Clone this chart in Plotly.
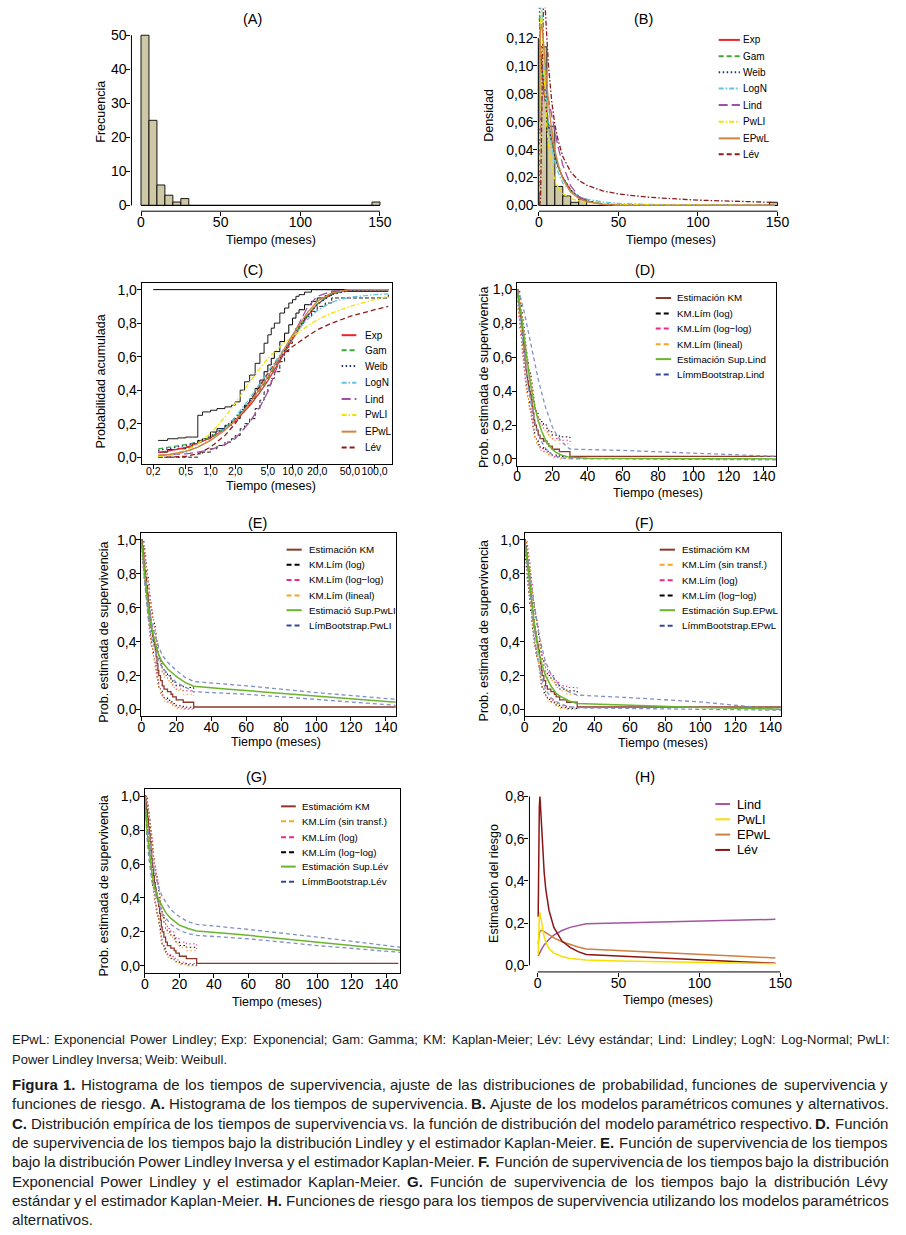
import plotly.graph_objects as go

W, H = 906, 1235
FONT = "Liberation Sans, Arial, Helvetica, sans-serif"


def fx(p):
    return p / W


def fy(p):
    return 1 - p / H


# ======================= DATA =======================
# (A) / (B) histogram of survival times (bins of 5 months)
hist_left = [0, 5, 10, 15, 20, 25, 30, 35, 40, 45, 50, 55, 60, 65, 70, 75, 80, 85, 90, 95,
             100, 105, 110, 115, 120, 125, 130, 135, 140, 145]
hist_counts = [50, 25, 6, 3, 1, 2, 0, 0, 0, 0, 0, 0, 0, 0, 0, 0, 0, 0, 0, 0,
               0, 0, 0, 0, 0, 0, 0, 0, 0, 1]

# (B) fitted densities
dens_x = [0.2, 0.5, 1, 1.5, 2, 3, 4, 5, 6, 8, 10, 12, 15, 20, 25, 30, 40, 50, 70, 100, 148]
dens_exp = [0.119, 0.115, 0.108, 0.101, 0.096, 0.085, 0.075, 0.066, 0.059, 0.046, 0.036, 0.028,
            0.020, 0.011, 0.006, 0.003, 0.001, 0.0003, 0.0, 0.0, 0.0]
dens_gam = [0.135, 0.122, 0.110, 0.102, 0.096, 0.085, 0.075, 0.066, 0.058, 0.046, 0.036, 0.028,
            0.020, 0.011, 0.006, 0.0033, 0.001, 0.0003, 0.0, 0.0, 0.0]
dens_weib = [0.142, 0.125, 0.112, 0.103, 0.096, 0.084, 0.074, 0.065, 0.057, 0.045, 0.035, 0.028,
             0.020, 0.011, 0.006, 0.0035, 0.0012, 0.0004, 0.0, 0.0, 0.0]
dens_logn = [0.05, 0.12, 0.15, 0.148, 0.135, 0.11, 0.09, 0.074, 0.061, 0.043, 0.031, 0.024,
             0.016, 0.010, 0.0066, 0.0046, 0.0025, 0.0015, 0.0007, 0.0003, 0.0001]
dens_lind = [0.042, 0.05, 0.062, 0.07, 0.076, 0.082, 0.083, 0.080, 0.076, 0.065, 0.053, 0.042,
             0.029, 0.014, 0.0066, 0.003, 0.0006, 0.0001, 0.0, 0.0, 0.0]
dens_pwli = [0.01, 0.08, 0.13, 0.14, 0.13, 0.10, 0.075, 0.056, 0.043, 0.027, 0.018, 0.013,
             0.0085, 0.005, 0.0033, 0.0024, 0.0014, 0.0009, 0.0005, 0.0003, 0.0001]
dens_epwl = [0.06, 0.10, 0.125, 0.13, 0.128, 0.115, 0.100, 0.086, 0.074, 0.054, 0.040, 0.030,
             0.019, 0.0095, 0.005, 0.0027, 0.0008, 0.0002, 0.0, 0.0, 0.0]
dens_lev = [0.0, 0.0, 0.005, 0.04, 0.10, 0.16, 0.14, 0.12, 0.10, 0.075, 0.058, 0.047,
            0.035, 0.024, 0.018, 0.0145, 0.0105, 0.0082, 0.0058, 0.0038, 0.0022]

# (C) empirical and fitted cumulative distributions (log time axis)
cdf_x = [0.23, 0.3, 0.5, 0.7, 1, 1.5, 2, 3, 4, 5, 7, 10, 15, 20, 30, 50, 100, 147]
cdf_exp = [0.028, 0.036, 0.059, 0.082, 0.115, 0.167, 0.216, 0.306, 0.386, 0.457, 0.574, 0.705,
           0.839, 0.913, 0.974, 0.998, 1.0, 1.0]
cdf_gam = [0.05, 0.058, 0.075, 0.09, 0.12, 0.175, 0.23, 0.32, 0.40, 0.47, 0.585, 0.715,
           0.845, 0.915, 0.975, 0.998, 1.0, 1.0]
cdf_weib = [0.04, 0.05, 0.07, 0.09, 0.125, 0.18, 0.235, 0.33, 0.41, 0.48, 0.59, 0.72,
            0.84, 0.91, 0.97, 0.995, 1.0, 1.0]
cdf_logn = [0.005, 0.01, 0.03, 0.06, 0.10, 0.17, 0.24, 0.35, 0.44, 0.51, 0.61, 0.72,
            0.82, 0.875, 0.925, 0.955, 0.97, 0.975]
cdf_lind = [0.01, 0.012, 0.02, 0.03, 0.045, 0.075, 0.11, 0.21, 0.30, 0.39, 0.58, 0.72,
            0.89, 0.96, 0.99, 1.0, 1.0, 1.0]
cdf_pwli = [0.003, 0.01, 0.04, 0.08, 0.14, 0.24, 0.32, 0.45, 0.53, 0.59, 0.66, 0.72,
            0.78, 0.82, 0.86, 0.90, 0.94, 0.96]
cdf_epwl = [0.01, 0.015, 0.035, 0.06, 0.10, 0.16, 0.22, 0.32, 0.41, 0.48, 0.60, 0.73,
            0.86, 0.93, 0.98, 1.0, 1.0, 1.0]
cdf_lev = [0.0, 0.0, 0.005, 0.02, 0.06, 0.13, 0.20, 0.33, 0.43, 0.50, 0.60, 0.66,
           0.72, 0.76, 0.80, 0.84, 0.88, 0.90]

ecdf_t = [0.23, 0.3, 0.4, 0.5, 0.6, 0.7, 0.8, 1.0, 1.2, 1.5, 1.8, 2.0, 2.3, 2.6, 3.0, 3.5, 4.0,
          4.5, 5.0, 5.5, 6, 7, 8, 9, 10, 11, 12, 14, 17, 20, 25, 30, 147]
ecdf_y = [0.03, 0.045, 0.05, 0.06, 0.08, 0.10, 0.11, 0.15, 0.17, 0.19, 0.21, 0.23, 0.27, 0.31,
          0.35, 0.41, 0.46, 0.51, 0.55, 0.59, 0.63, 0.69, 0.74, 0.79, 0.83, 0.86, 0.88, 0.91,
          0.93, 0.95, 0.965, 0.99, 0.99]
ecdf_up = [0.10, 0.11, 0.115, 0.12, 0.12, 0.25, 0.27, 0.28, 0.29, 0.30, 0.31, 0.33, 0.40, 0.45,
           0.49, 0.56, 0.62, 0.68, 0.73, 0.77, 0.80, 0.86, 0.89, 0.92, 0.94, 0.96, 0.97, 0.985,
           1.0, 1.0, 1.0, 1.0, 1.0]
ecdf_lo = [0.0, 0.0, 0.0, 0.0, 0.0, 0.02, 0.03, 0.05, 0.07, 0.09, 0.11, 0.13, 0.17, 0.20, 0.23,
           0.29, 0.34, 0.39, 0.43, 0.47, 0.51, 0.57, 0.63, 0.68, 0.73, 0.77, 0.80, 0.84, 0.87,
           0.90, 0.92, 0.95, 0.97]
ecdf_top_x = [0.2, 147]
ecdf_top_y = [1.0, 1.0]

# (D)-(G) Kaplan-Meier estimate and pointwise limits
km_t = [0, 0.5, 1, 1.5, 2, 2.5, 3, 3.5, 4, 4.5, 5, 5.5, 6, 6.5, 7, 7.5, 8, 8.5, 9, 9.5,
        10, 11, 12, 13, 15, 17, 18, 20, 24, 30, 147]
km_s = [1.0, 0.96, 0.92, 0.87, 0.82, 0.78, 0.73, 0.68, 0.63, 0.58, 0.53, 0.49, 0.46, 0.43,
        0.40, 0.38, 0.35, 0.31, 0.27, 0.23, 0.20, 0.17, 0.14, 0.12, 0.105, 0.09, 0.075, 0.057,
        0.043, 0.015, 0.015]
km_log_up = [1.0, 1.0, 1.0, 0.95, 0.91, 0.87, 0.83, 0.78, 0.74, 0.69, 0.64, 0.60, 0.57, 0.54,
             0.51, 0.49, 0.46, 0.42, 0.38, 0.34, 0.30, 0.27, 0.24, 0.22, 0.20, 0.18, 0.16, 0.14,
             0.13, 0.12]
km_log_lo = [1.0, 0.92, 0.86, 0.80, 0.74, 0.69, 0.64, 0.59, 0.54, 0.49, 0.44, 0.40, 0.37, 0.34,
             0.31, 0.29, 0.26, 0.23, 0.19, 0.16, 0.13, 0.11, 0.085, 0.07, 0.055, 0.045, 0.035,
             0.022, 0.014, 0.005]
km_ll_up = [1.0, 0.99, 0.97, 0.94, 0.90, 0.86, 0.81, 0.77, 0.72, 0.68, 0.63, 0.59, 0.56, 0.53,
            0.50, 0.47, 0.44, 0.40, 0.36, 0.32, 0.29, 0.25, 0.22, 0.20, 0.18, 0.16, 0.14, 0.12,
            0.11, 0.10]
km_ll_lo = [1.0, 0.88, 0.83, 0.77, 0.72, 0.67, 0.62, 0.57, 0.52, 0.47, 0.42, 0.39, 0.36, 0.33,
            0.30, 0.28, 0.25, 0.22, 0.18, 0.15, 0.12, 0.10, 0.075, 0.06, 0.045, 0.035, 0.025,
            0.013, 0.006, 0.001]
km_lin_up = [1.0, 1.0, 0.98, 0.94, 0.90, 0.86, 0.82, 0.77, 0.72, 0.68, 0.63, 0.59, 0.56, 0.53,
             0.50, 0.48, 0.45, 0.41, 0.36, 0.32, 0.28, 0.25, 0.21, 0.19, 0.17, 0.15, 0.13, 0.11,
             0.09, 0.08]
km_lin_lo = [1.0, 0.92, 0.86, 0.80, 0.74, 0.69, 0.64, 0.59, 0.53, 0.48, 0.43, 0.39, 0.36, 0.33,
             0.30, 0.28, 0.25, 0.21, 0.18, 0.14, 0.12, 0.09, 0.07, 0.05, 0.04, 0.03, 0.018,
             0.007, 0.0, 0.0]

# (D) Lindley
lind_t = [0, 1, 2, 3, 4, 5, 6, 7, 8, 10, 12, 14, 16, 18, 20, 22, 25, 28, 30, 40, 60, 100, 147]
lind_s = [1.0, 0.947, 0.876, 0.797, 0.714, 0.633, 0.556, 0.485, 0.420, 0.310, 0.226, 0.162,
          0.115, 0.081, 0.057, 0.039, 0.023, 0.013, 0.009, 0.004, 0.002, 0.001, 0.0]
lind_boot_t = [0, 2, 4, 6, 8, 10, 12, 14, 16, 18, 20, 22, 25, 28, 30, 60, 100, 147]
lind_boot_up = [1.0, 0.95, 0.87, 0.77, 0.66, 0.56, 0.47, 0.39, 0.31, 0.25, 0.19, 0.15, 0.105,
                0.075, 0.058, 0.05, 0.035, 0.015]
lind_boot_lo = [1.0, 0.82, 0.62, 0.45, 0.32, 0.22, 0.15, 0.10, 0.065, 0.04, 0.025, 0.015,
                0.007, 0.003, 0.001, 0.0, -0.003, -0.006]

# (E) Power Lindley Inversa
pwli_t = [0, 1, 2, 3, 4, 5, 6, 7, 8, 10, 12, 15, 18, 20, 25, 30, 50, 80, 100, 120, 146]
pwli_s = [1.0, 0.90, 0.78, 0.67, 0.59, 0.52, 0.47, 0.43, 0.39, 0.32, 0.28, 0.24, 0.21, 0.195,
          0.16, 0.137, 0.12, 0.097, 0.082, 0.066, 0.043]
pwli_boot_t = [0, 2, 4, 6, 8, 10, 12, 15, 20, 25, 30, 60, 100, 146]
pwli_boot_up = [1.0, 0.83, 0.64, 0.51, 0.43, 0.37, 0.32, 0.28, 0.23, 0.19, 0.165, 0.14, 0.10,
                0.06]
pwli_boot_lo = [1.0, 0.74, 0.54, 0.42, 0.35, 0.29, 0.25, 0.21, 0.16, 0.13, 0.105, 0.09, 0.06,
                0.025]

# (F) Exponencial Power Lindley
epwl_t = [0, 1, 2, 3, 4, 5, 6, 7, 8, 10, 12, 15, 18, 20, 25, 30, 60, 100, 146]
epwl_s = [1.0, 0.93, 0.84, 0.74, 0.64, 0.55, 0.47, 0.40, 0.34, 0.26, 0.20, 0.14, 0.095, 0.08,
          0.052, 0.036, 0.025, 0.012, 0.002]
epwl_boot_t = [0, 2, 4, 6, 8, 10, 12, 15, 20, 25, 30, 60, 100, 146]
epwl_boot_up = [1.0, 0.88, 0.72, 0.57, 0.45, 0.36, 0.28, 0.21, 0.14, 0.105, 0.085, 0.07, 0.045,
                0.0]
epwl_boot_lo = [1.0, 0.80, 0.58, 0.40, 0.27, 0.18, 0.12, 0.07, 0.035, 0.018, 0.01, 0.006,
                0.004, -0.004]

# (G) Lévy estándar
lev_t = [0, 0.5, 1, 2, 3, 4, 5, 6, 8, 10, 12, 15, 20, 25, 30, 50, 80, 100, 120, 148]
lev_s = [1.0, 0.88, 0.82, 0.72, 0.62, 0.55, 0.49, 0.45, 0.39, 0.35, 0.315, 0.28, 0.24, 0.22,
         0.206, 0.19, 0.16, 0.14, 0.12, 0.093]
lev_boot_t = [0, 1, 2, 4, 6, 8, 10, 15, 20, 25, 30, 60, 100, 148]
lev_boot_up = [1.0, 0.88, 0.78, 0.62, 0.53, 0.46, 0.41, 0.33, 0.29, 0.26, 0.245, 0.215, 0.17,
               0.11]
lev_boot_lo = [1.0, 0.78, 0.66, 0.50, 0.42, 0.36, 0.31, 0.245, 0.21, 0.19, 0.18, 0.16, 0.12,
               0.08]

# (H) hazard functions
haz_x = [0.3, 0.6, 1.0, 1.4, 2, 3, 4, 5, 7, 10, 15, 20, 25, 30, 50, 75, 100, 125, 147]
haz_lind = [0.045, 0.05, 0.057, 0.063, 0.072, 0.085, 0.097, 0.107, 0.124, 0.143, 0.165, 0.18,
            0.19, 0.197, 0.201, 0.206, 0.21, 0.214, 0.218]
haz_pwli = [0.05, 0.15, 0.23, 0.25, 0.22, 0.17, 0.135, 0.11, 0.08, 0.058, 0.042, 0.033, 0.028,
            0.025, 0.021, 0.018, 0.014, 0.011, 0.008]
haz_epwl = [0.10, 0.13, 0.15, 0.16, 0.165, 0.165, 0.16, 0.155, 0.145, 0.13, 0.112, 0.098,
            0.087, 0.078, 0.070, 0.060, 0.051, 0.043, 0.035]
haz_lev = [0.23, 0.55, 0.75, 0.80, 0.72, 0.56, 0.44, 0.36, 0.26, 0.18, 0.115, 0.085, 0.065,
           0.052, 0.044, 0.034, 0.025, 0.017, 0.01]

# tick labels
tick_a_y = [0, 10, 20, 30, 40, 50]
tick_a_x = [0, 50, 100, 150]
tick_b_y = [0, 0.02, 0.04, 0.06, 0.08, 0.10, 0.12]
tick_b_ylab = ["0,00", "0,02", "0,04", "0,06", "0,08", "0,10", "0,12"]
tick_c_x = [0.2, 0.5, 1, 2, 5, 10, 20, 50, 100]
tick_c_xlab = ["0,2", "0,5", "1,0", "2,0", "5,0", "10,0", "20,0", "50,0", "100,0"]
tick_s_y = [0, 0.2, 0.4, 0.6, 0.8, 1.0]
tick_s_ylab = ["0,0", "0,2", "0,4", "0,6", "0,8", "1,0"]
tick_s_x = [0, 20, 40, 60, 80, 100, 120, 140]
tick_h_y = [0, 0.2, 0.4, 0.6, 0.8]
tick_h_ylab = ["0,0", "0,2", "0,4", "0,6", "0,8"]

# ======================= STYLE =======================
RED = "#e8262b"
GREEN_B = "#3aa835"
NAVY = "#1c2f8c"
CYAN = "#5fc6dc"
PURPLE = "#a24ea6"
YELLOW = "#f3e200"
ORANGE_B = "#d2843f"
DARKRED = "#8c1c1c"
HISTFILL = "#cfc8a6"
KMBROWN = "#8b3a2a"
ESTGREEN = "#6ab42e"
BOOTBLUE = "#34499c"
BOOTLIGHT = "#8090c8"
PINK = "#f0288c"
ORANGE = "#f5a623"

DASH = "5px,3px"
DOT = "1.5px,2.5px"
DASHDOT = "5px,2px,1.5px,2px"
LONGDASH = "9px,4px"
TICKF = 14

fig = go.Figure()
layout_axes = {}
shapes = []
annotations = []


def ax_ids(i):
    return ("x" if i == 1 else f"x{i}"), ("y" if i == 1 else f"y{i}")


def add_axes(i, xdom, ydom, xrange, yrange, xt, xl, yt, yl, xfont, yfont, box, xtype="linear"):
    xa, ya = ax_ids(i)
    common = dict(ticks="outside", ticklen=4, tickwidth=1, tickcolor="black", showgrid=False,
                  zeroline=False, showline=box, mirror=box, linecolor="black", linewidth=1,
                  fixedrange=True, tickmode="array", tickangle=0)
    layout_axes["xaxis" if i == 1 else f"xaxis{i}"] = dict(
        domain=[fx(xdom[0]), fx(xdom[1])], range=xrange, type=xtype, tickvals=xt, ticktext=xl,
        anchor=ya, ticklabelstandoff=-6,
        tickfont=dict(family=FONT, size=xfont, color="black"), **common)
    layout_axes["yaxis" if i == 1 else f"yaxis{i}"] = dict(
        domain=[fy(ydom[1]), fy(ydom[0])], range=yrange, tickvals=yt, ticktext=yl,
        anchor=xa, ticklabelstandoff=-3,
        tickfont=dict(family=FONT, size=yfont, color="black"), **common)


def line(i, x, y, color, width=1.2, dash="solid", shape="linear"):
    xa, ya = ax_ids(i)
    fig.add_trace(go.Scatter(x=x, y=y, mode="lines", xaxis=xa, yaxis=ya, showlegend=False,
                             hoverinfo="skip",
                             line=dict(color=color, width=width, dash=dash, shape=shape)))


def detached_axes(i, x0, x1, y0, y1):
    xa, ya = ax_ids(i)
    shapes.append(dict(type="line", xref=xa, yref=f"{ya} domain", x0=x0, x1=x1, y0=0, y1=0,
                       line=dict(color="black", width=1)))
    shapes.append(dict(type="line", xref=f"{xa} domain", yref=ya, x0=0, x1=0, y0=y0, y1=y1,
                       line=dict(color="black", width=1)))


def text(t, x, y, size, angle=0, anchor="center", color="black"):
    annotations.append(dict(text=t, x=fx(x), y=fy(y), xref="paper", yref="paper",
                            xanchor=anchor, yanchor="middle", showarrow=False, textangle=angle,
                            borderpad=0, borderwidth=0,
                            font=dict(family=FONT, size=size, color=color)))


def legend(items, lx0, lx1, tx, ys, size, lw=2):
    for (label, color, dash), yy in zip(items, ys):
        shapes.append(dict(type="line", xref="paper", yref="paper", x0=fx(lx0), x1=fx(lx1),
                           y0=fy(yy), y1=fy(yy), line=dict(color=color, width=lw, dash=dash)))
        text(label, tx, yy, size, anchor="left")


# ---------- (A) histogram ----------
hist_centers = [l + 2.5 for l in hist_left]
add_axes(1, (129.6, 392), (27.5, 210.7), [-6, 156], [-1.7, 52], tick_a_x,
         [str(v) for v in tick_a_x], tick_a_y, [str(v) for v in tick_a_y], TICKF, TICKF, False)
fig.add_trace(go.Bar(x=hist_centers, y=hist_counts, width=5, xaxis="x", yaxis="y",
                     marker=dict(color=HISTFILL, line=dict(color="black", width=0.9)),
                     showlegend=False, hoverinfo="skip"))
line(1, [0, 150], [0, 0], "black", 1)
detached_axes(1, 0, 150, 0, 50)

# ---------- (B) densities ----------
hist_density = [c / (sum(hist_counts) * 5) for c in hist_counts]
add_axes(2, (543.3, 787), (6.7, 210.7), [-0.4, 150.3], [-0.0041, 0.1417], tick_a_x,
         [str(v) for v in tick_a_x], tick_b_y, tick_b_ylab, TICKF, TICKF, False)
fig.add_trace(go.Bar(x=hist_centers, y=hist_density, width=5, xaxis="x2", yaxis="y2",
                     marker=dict(color=HISTFILL, line=dict(color="black", width=0.9)),
                     showlegend=False, hoverinfo="skip"))
line(2, [0, 150], [0, 0], "black", 1)
b_series = [
    (dens_lev, DARKRED, DASHDOT), (dens_exp, RED, "solid"), (dens_gam, GREEN_B, DASH),
    (dens_weib, NAVY, DOT), (dens_logn, CYAN, DASHDOT), (dens_lind, PURPLE, LONGDASH),
    (dens_pwli, YELLOW, DASHDOT), (dens_epwl, ORANGE_B, "solid"),
]
for ys, c, d in b_series:
    line(2, dens_x, ys, c, 1.3, d)
detached_axes(2, 0, 150, 0, 0.12)

model_legend = [("Exp", RED, "solid"), ("Gam", GREEN_B, DASH), ("Weib", NAVY, DOT),
                ("LogN", CYAN, DASHDOT), ("Lind", PURPLE, LONGDASH), ("PwLI", YELLOW, DASHDOT),
                ("EPwL", ORANGE_B, "solid"), ("Lév", DARKRED, DASH)]
legend(model_legend, 726.7, 748.3, 751, [39, 55.3, 71.3, 87.7, 104.3, 121, 137.7, 153.7], 10)

# ---------- (C) CDFs ----------
add_axes(3, (140, 395), (282.6, 464.0), [-0.839, 2.218], [-0.04, 1.04], tick_c_x, tick_c_xlab,
         tick_s_y, tick_s_ylab, 10.5, TICKF, True, xtype="log")
line(3, ecdf_top_x, ecdf_top_y, "black", 1)
line(3, ecdf_t, ecdf_up, "black", 0.9, "solid", "hv")
line(3, ecdf_t, ecdf_lo, "black", 0.9, "4px,2px", "hv")
line(3, ecdf_t, ecdf_y, "black", 1, "solid", "hv")
c_series = [
    (cdf_lev, DARKRED, DASH), (cdf_lind, PURPLE, LONGDASH), (cdf_exp, RED, "solid"),
    (cdf_gam, GREEN_B, DASH), (cdf_weib, NAVY, DOT), (cdf_logn, CYAN, DASHDOT),
    (cdf_pwli, YELLOW, DASHDOT), (cdf_epwl, ORANGE_B, "solid"),
]
for ys, c, d in c_series:
    line(3, cdf_x, ys, c, 1.3, d)
legend(model_legend, 343.3, 358.3, 366.7, [335, 350, 366, 382.7, 399, 415, 431.7, 447.7], 10)


# ---------- (D)-(G) survival panels ----------
def km_block(i, ci_colors):
    cl, cll, clin = ci_colors
    n = len(km_t) - 1
    line(i, km_t[:n], km_log_up, cl, 1, DOT, "hv")
    line(i, km_t[:n], km_log_lo, cl, 1, DOT, "hv")
    line(i, km_t[:n], km_ll_up, cll, 1, DOT, "hv")
    line(i, km_t[:n], km_ll_lo, cll, 1, DOT, "hv")
    line(i, km_t[:n], km_lin_up, clin, 1, DOT, "hv")
    line(i, km_t[:n], km_lin_lo, clin, 1, DOT, "hv")
    line(i, km_t, km_s, KMBROWN, 1.3, "solid", "hv")


def fit_block(i, t, s, bt, bup, blo):
    line(i, bt, bup, BOOTLIGHT, 1.3, "4px,3px")
    line(i, bt, blo, BOOTLIGHT, 1.3, "4px,3px")
    line(i, t, s, ESTGREEN, 1.5)


xl_s = [str(v) for v in tick_s_x]

add_axes(4, (521.7, 785), (282.5, 465.8), [0, 146.9], [-0.04, 1.04], tick_s_x, xl_s,
         tick_s_y, tick_s_ylab, TICKF, TICKF, True)
km_block(4, ("black", PINK, ORANGE))
fit_block(4, lind_t, lind_s, lind_boot_t, lind_boot_up, lind_boot_lo)
legend([("Estimación KM", KMBROWN, "solid"), ("KM.Lím (log)", "black", DASH),
        ("KM.Lím (log\u2212log)", PINK, DASH), ("KM.Lím (lineal)", ORANGE, DASH),
        ("Estimación Sup.Lind", ESTGREEN, "solid"), ("LímmBootstrap.Lind", BOOTBLUE, DASH)],
       662.7, 678.3, 684.3, [297.7, 313.3, 328.3, 344, 359, 374.3], 9.75)

add_axes(5, (139.6, 398.3), (533.2, 717.1), [0, 145.6], [-0.04, 1.04], tick_s_x, xl_s,
         tick_s_y, tick_s_ylab, TICKF, TICKF, True)
km_block(5, ("black", PINK, ORANGE))
fit_block(5, pwli_t, pwli_s, pwli_boot_t, pwli_boot_up, pwli_boot_lo)
legend([("Estimación KM", KMBROWN, "solid"), ("KM.Lím (log)", "black", DASH),
        ("KM.Lím (log\u2212log)", PINK, DASH), ("KM.Lím (lineal)", ORANGE, DASH),
        ("Estimació Sup.PwLI", ESTGREEN, "solid"), ("LímBootstrap.PwLI", BOOTBLUE, DASH)],
       287.3, 302.7, 310, [550, 565, 580.3, 596, 610.7, 626], 9.75)

add_axes(6, (529.3, 790), (533.2, 717.1), [0, 146], [-0.04, 1.04], tick_s_x, xl_s,
         tick_s_y, tick_s_ylab, TICKF, TICKF, True)
km_block(6, (PINK, "black", ORANGE))
fit_block(6, epwl_t, epwl_s, epwl_boot_t, epwl_boot_up, epwl_boot_lo)
legend([("Estimacióm KM", KMBROWN, "solid"), ("KM.Lím (sin transf.)", ORANGE, DASH),
        ("KM.Lím (log)", PINK, DASH), ("KM.Lím (log\u2212log)", "black", DASH),
        ("Estimación Sup.EPwL", ESTGREEN, "solid"), ("LímmBootstrap.EPwL", BOOTBLUE, DASH)],
       666.7, 682.3, 689.3, [550, 565, 580.7, 596, 610.7, 626.3], 9.75)

add_axes(7, (143.3, 402.7), (790.2, 974.1), [0, 148], [-0.04, 1.04], tick_s_x, xl_s,
         tick_s_y, tick_s_ylab, TICKF, TICKF, True)
km_block(7, (PINK, "black", ORANGE))
fit_block(7, lev_t, lev_s, lev_boot_t, lev_boot_up, lev_boot_lo)
legend([("Estimacióm KM", KMBROWN, "solid"), ("KM.Lím (sin transf.)", ORANGE, DASH),
        ("KM.Lím (log)", PINK, DASH), ("KM.Lím (log\u2212log)", "black", DASH),
        ("Estimación Sup.Lév", ESTGREEN, "solid"), ("LímmBootstrap.Lév", BOOTBLUE, DASH)],
       281.7, 296.7, 302.7, [807.3, 822.3, 838.3, 853.3, 867.7, 883], 9.75)

# ---------- (H) hazards ----------
HZ_LIND, HZ_PWLI, HZ_EPWL, HZ_LEV = "#a455a0", "#f7e000", "#cf7f3e", "#8b1414"
add_axes(8, (534.3, 794.1), (790.6, 973.3), [-5.1, 152.9], [-0.031, 0.832], tick_a_x,
         [str(v) for v in tick_a_x], tick_h_y, tick_h_ylab, TICKF, TICKF, False)
line(8, haz_x, haz_lind, HZ_LIND, 1.5)
line(8, haz_x, haz_epwl, HZ_EPWL, 1.5)
line(8, haz_x, haz_lev, HZ_LEV, 1.5)
line(8, haz_x, haz_pwli, HZ_PWLI, 1.5)
detached_axes(8, 0, 150, 0, 0.8)
legend([("Lind", HZ_LIND, "solid"), ("PwLI", HZ_PWLI, "solid"), ("EPwL", HZ_EPWL, "solid"),
        ("Lév", HZ_LEV, "solid")], 723.3, 738.3, 745, [805, 820.3, 835.6, 851], 12.8)

# ---------- titles ----------
for t, x, y in [("(A)", 253, 18), ("(B)", 650, 18), ("(C)", 253, 270), ("(D)", 651.7, 270),
                ("(E)", 257.5, 523.5), ("(F)", 651.7, 523.5), ("(G)", 257, 778.3),
                ("(H)", 651.7, 778.3)]:
    text(t, x, y, 14.5)

TT = 12.5
for (x, y) in [(272, 240), (678, 240), (271.7, 486), (665, 492.7), (276.7, 742.5),
               (670, 744), (278, 1003), (675, 1001.7)]:
    text("Tiempo (meses)", x, y, TT)
for t, x, y in [("Frecuencia", 98.3, 111.3), ("Densidad", 493.3, 115),
                ("Probabilidad acumulada", 98.3, 381.7),
                ("Prob. estimada de supervivencia", 488.3, 377.7),
                ("Prob. estimada de supervivencia", 101.7, 633.3),
                ("Prob. estimada de supervivencia", 488.3, 631.7),
                ("Prob. estimada de supervivencia", 101.7, 887.7),
                ("Estimación del riesgo", 498.3, 885)]:
    text(t, x, y, TT, angle=-90)

# ---------- caption (justified, Arial/Liberation metrics) ----------
REG = {' ': 278, ',': 278, '.': 278, ';': 278, ':': 278, '-': 333, '1': 556,
       'A': 667, 'B': 667, 'C': 722, 'D': 722, 'E': 667, 'F': 611, 'G': 778, 'H': 722, 'I': 278,
       'K': 667, 'L': 556, 'M': 833, 'N': 722, 'P': 667, 'W': 944,
       'a': 556, 'b': 556, 'c': 500, 'd': 556, 'e': 556, 'f': 278, 'g': 556, 'h': 556, 'i': 222,
       'j': 222, 'k': 500, 'l': 222, 'm': 833, 'n': 556, 'o': 556, 'p': 556, 'q': 556, 'r': 333,
       's': 500, 't': 278, 'u': 556, 'v': 500, 'w': 722, 'x': 500, 'y': 500, 'z': 500,
       'á': 556, 'é': 556, 'í': 278, 'ó': 556, 'ú': 556, 'ñ': 556}
BOLD = {'F': 611, 'i': 278, 'g': 611, 'u': 611, 'r': 389, 'a': 556, '1': 556, '.': 278,
        'A': 722, 'B': 722, 'C': 722, 'D': 722, 'E': 667, 'G': 778, 'H': 722}


def word_w(w, size):
    bold = w.startswith("<b>")
    s = w.replace("<b>", "").replace("</b>", "")
    tbl = BOLD if bold else REG
    return sum(tbl.get(ch, REG.get(ch, 556)) for ch in s) * size / 1000


def paragraph(lines, ys, size, x0, x1, color="#1a1a1a"):
    for k, (ln, yc) in enumerate(zip(lines, ys)):
        words = ln.split(" ")
        ws = [word_w(w, size) for w in words]
        space = 278 * size / 1000
        if k < len(lines) - 1 and len(words) > 1:
            gap = max((x1 - x0 - sum(ws)) / (len(words) - 1), 0.5 * space)
        else:
            gap = space
        x = x0
        for w, wd in zip(words, ws):
            text(w, x, yc, size, anchor="left", color=color)
            x += wd + gap


caption_abbrev = [
    "EPwL: Exponencial Power Lindley; Exp: Exponencial; Gam: Gamma; KM: Kaplan-Meier; "
    "Lév: Lévy estándar; Lind: Lindley; LogN: Log-Normal; PwLI:",
    "Power Lindley Inversa; Weib: Weibull.",
]
caption_fig = [
    "<b>Figura</b> <b>1.</b> Histograma de los tiempos de supervivencia, ajuste de las "
    "distribuciones de probabilidad, funciones de supervivencia y",
    "funciones de riesgo. <b>A.</b> Histograma de los tiempos de supervivencia. <b>B.</b> "
    "Ajuste de los modelos paramétricos comunes y alternativos.",
    "<b>C.</b> Distribución empírica de los tiempos de supervivencia vs. la función de "
    "distribución del modelo paramétrico respectivo. <b>D.</b> Función",
    "de supervivencia de los tiempos bajo la distribución Lindley y el estimador "
    "Kaplan-Meier. <b>E.</b> Función de supervivencia de los tiempos",
    "bajo la distribución Power Lindley Inversa y el estimador Kaplan-Meier. <b>F.</b> "
    "Función de supervivencia de los tiempos bajo la distribución",
    "Exponencial Power Lindley y el estimador Kaplan-Meier. <b>G.</b> Función de "
    "supervivencia de los tiempos bajo la distribución Lévy",
    "estándar y el estimador Kaplan-Meier. <b>H.</b> Funciones de riesgo para los tiempos de "
    "supervivencia utilizando los modelos paramétricos",
    "alternativos.",
]
paragraph(caption_abbrev, [1041, 1061], 13, 8, 900)
paragraph(caption_fig, [1086, 1105.5, 1125, 1144.3, 1163.6, 1183, 1202.3, 1221.6], 15, 8, 898)

fig.update_layout(
    width=W, height=H, autosize=False, margin=dict(l=0, r=0, t=0, b=0),
    paper_bgcolor="white", plot_bgcolor="rgba(0,0,0,0)", showlegend=False,
    font=dict(family=FONT, color="black"), barmode="overlay", bargap=0,
    shapes=shapes, annotations=annotations, **layout_axes,
)
fig.write_html("out.html", config={"displayModeBar": False, "staticPlot": True},
               post_script="document.body.style.margin='0';document.body.style.padding='0';")
